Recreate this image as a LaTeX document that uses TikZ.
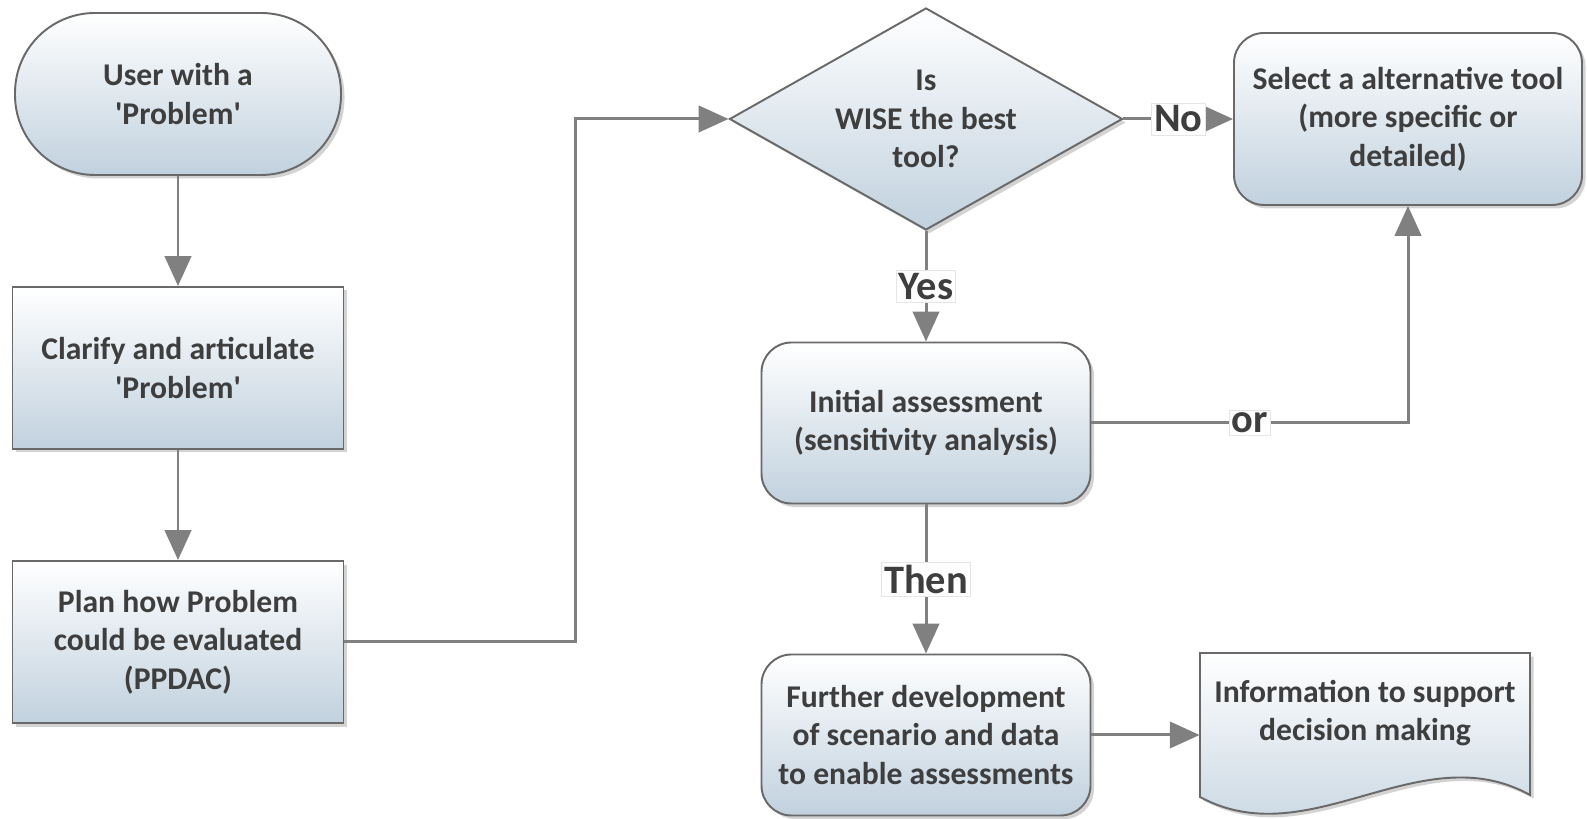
\documentclass[tikz,border=0pt]{standalone}
\usepackage{fontspec}
\setmainfont{Carlito}
\usepackage{tikz}
\usetikzlibrary{arrows.meta}
\usetikzlibrary{shapes.geometric}
\usetikzlibrary{shadows}
\definecolor{linegray}{RGB}{128,128,128}
\definecolor{edgegray}{RGB}{105,105,105}
\definecolor{textgray}{RGB}{62,62,62}
\definecolor{boxblue}{RGB}{193,209,222}
\tikzset{flow/.style = {draw = linegray, line width = 1.7pt,
                        -{Triangle[length = 17pt, width = 15pt]}}}
\tikzset{box/.style = {draw = edgegray, line width = 1.1pt,
                       top color = white, bottom color = boxblue,
                       drop shadow = {shadow xshift = 2pt, shadow yshift = -2pt, opacity = 0.35},
                       text = textgray, font = \fontsize{18}{21.8}\selectfont\bfseries,
                       align = center, inner sep = 0,
                       minimum width = 6.62cm, minimum height = 3.24cm}}
\tikzset{terminal/.style = {box, rounded corners = 1.6cm, minimum width = 6.52cm}}
\tikzset{roundbox/.style = {box, rounded corners = 0.6cm, minimum width = 6.58cm, minimum height = 3.22cm}}
\tikzset{decision/.style = {box, diamond, aspect = 1.77, minimum width = 7.86cm, minimum height = 4.44cm}}
\tikzset{docshape/.style = {draw = edgegray, line width = 1.1pt,
                            top color = white, bottom color = boxblue,
                            drop shadow = {shadow xshift = 2pt, shadow yshift = -2pt, opacity = 0.35}}}
\tikzset{doctext/.style = {text = textgray, font = \fontsize{18}{21.8}\selectfont\bfseries,
                           align = center, inner sep = 0}}
\tikzset{lbl/.style = {fill = white, draw = gray!20, line width = 0.4pt, text = textgray,
                       font = \fontsize{23}{26}\selectfont\bfseries, inner sep = 1.5pt}}

\begin{document}
\begin{tikzpicture}
        \useasboundingbox (0, 0) rectangle (31.74, 16.38);
        \node (start) at (3.56, 14.5) [terminal] {User with a\\\textquotesingle Problem\textquotesingle};
        \node (clarify) at (3.56, 9.02) [box] {Clarify and articulate\\\textquotesingle Problem\textquotesingle};
        \node (plan) at (3.56, 3.54) [box] {Plan how Problem\\could be evaluated\\(PPDAC)};
        \node (decide) at (18.52, 14.0) [decision] {Is\\WISE the best\\tool?};
        \node (select) at (28.16, 14.0) [roundbox, minimum width = 6.96cm, minimum height = 3.44cm]
              {Select a alternative tool\\(more specific or\\detailed)};
        \node (initial) at (18.52, 7.92) [roundbox] {Initial assessment\\(sensitivity analysis)};
        \node (further) at (18.52, 1.68) [roundbox] {Further development\\of scenario and data\\to enable assessments};
        \draw [docshape] (24.0, 3.32) -- (30.6, 3.32) -- (30.6, 0.48)
              .. controls (28.4, 1.7) and (26.2, -0.75) .. (24.0, 0.44) -- cycle;
        \node (info) at (27.3, 2.12) [doctext, minimum width = 6.6cm] {Information to support\\decision making};
        \draw [flow] (start) -- (clarify);
        \draw [flow] (clarify) -- (plan);
        \draw [flow] (plan.east) -- ++(4.62, 0) |- (decide);
        \draw [flow] (decide) -- node [lbl] {No} (select);
        \draw [flow] (decide) -- node [lbl] {Yes} (initial);
        \draw [flow] (initial) -| node [lbl, pos = 0.25] {or} (select);
        \draw [flow] (initial) -- node [lbl] {Then} (further);
        \draw [flow] (further) -- (further -| info.west);
      \end{tikzpicture}
\end{document}
